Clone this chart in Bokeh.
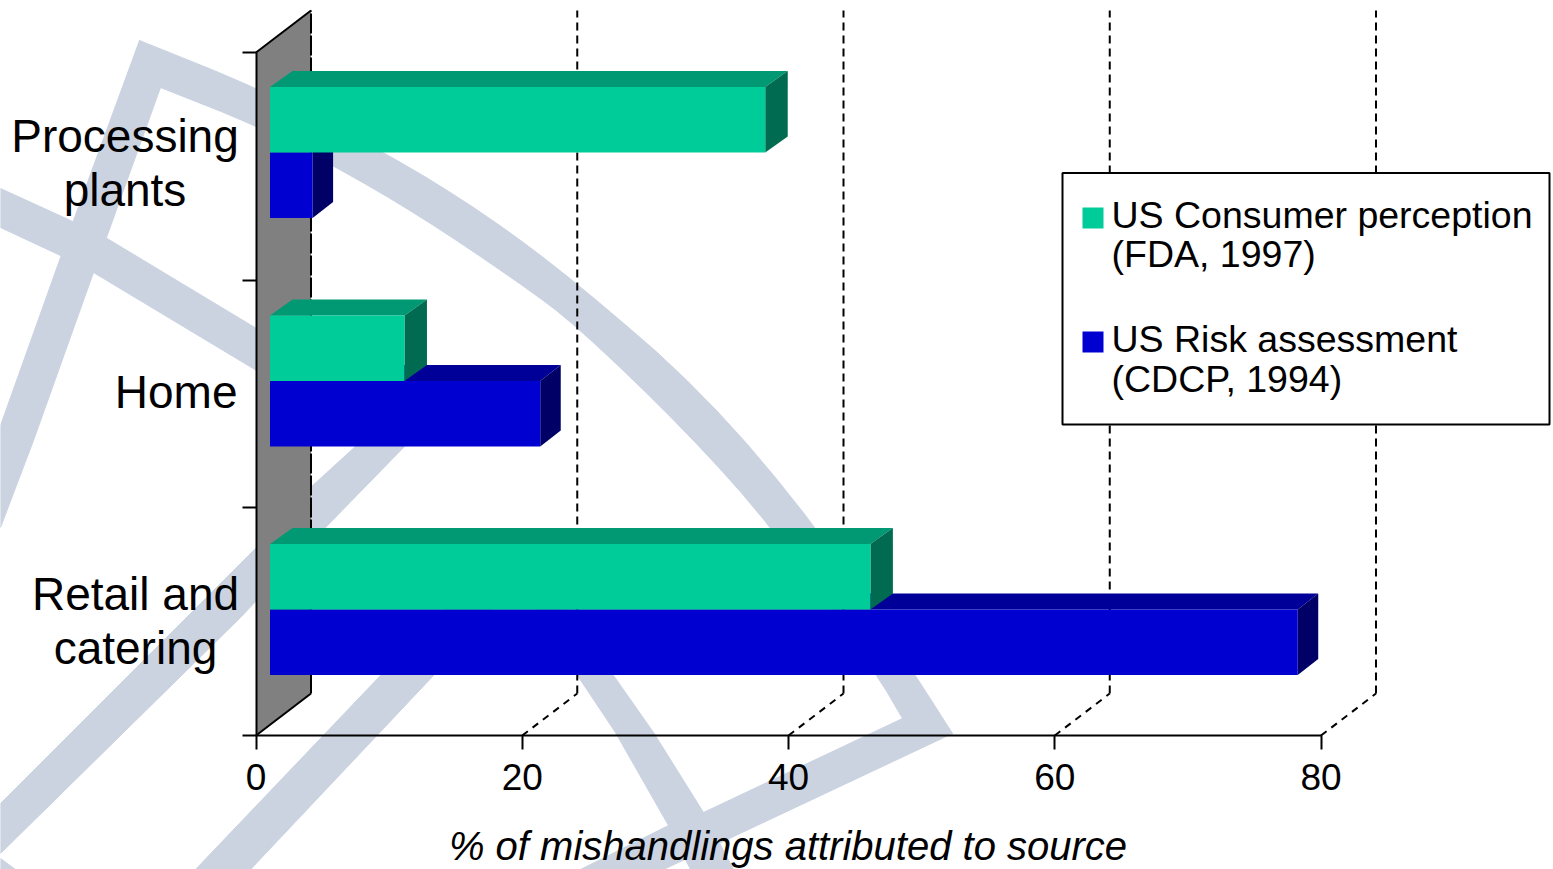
from bokeh.plotting import figure
from bokeh.embed import file_html
from bokeh.resources import INLINE
from bokeh.models import (FixedTicker, Range1d, Label, PolyAnnotation, BoxAnnotation)

# ---------- data ----------
categories = [["Retail and", "catering"], ["Home"], ["Processing", "plants"]]
consumer_perception = [45.1, 10.1, 37.2]
risk_assessment = [77.2, 20.3, 3.2]
x_ticks = [0, 20, 40, 60, 80]
series_names = [["US Consumer perception", "(FDA, 1997)"],
                ["US Risk assessment", "(CDCP, 1994)"]]
x_title = "% of mishandlings attributed to source"

# ---------- 3-D look (in data units) ----------
XS, YS = 13.3125, 227.67            # pixels per data unit
def dx(px): return (px - 255.5) / XS
def dy(py): return (735 - py) / YS

WALL_DX, WALL_DY = 55 / XS, 42 / YS
BAR_BASE = 14 / XS
BAR_DY = 16 / YS
BAR_H = 65.5 / YS
BAR_SPLIT = 0.553
ROW_STEP = 228.5 / YS
FONT = "Liberation Sans"
GREEN = ("#00CC99", "#009973", "#006B50", 22.5 / XS)
BLUE = ("#0000D0", "#000099", "#000066", 20.5 / XS)
WM = "#CBD3E1"

p = figure(width=1553, height=869, output_backend="svg", toolbar_location=None,
           x_range=Range1d(dx(0), dx(1553)), y_range=Range1d(dy(869), dy(0)),
           min_border_left=0, min_border_right=0, min_border_top=0, min_border_bottom=0)
p.grid.visible = False
p.outline_line_color = None
p.background_fill_color = None

# ---------- watermark ----------
def smooth(pts, n=2):
    for _ in range(n):
        new = [pts[0]]
        for (a, b), (c, d) in zip(pts[:-1], pts[1:]):
            new += [(0.75 * a + 0.25 * c, 0.75 * b + 0.25 * d), (0.25 * a + 0.75 * c, 0.25 * b + 0.75 * d)]
        new.append(pts[-1])
        pts = new
    return pts

arc_upper = [(139, 40), (256, 87), (387, 153), (487, 215), (576, 282), (703, 392), (818, 528), (915, 675), (952, 733)]
arc_lower = [(902, 718), (877, 675), (773, 528), (685, 430), (576, 325), (520, 283), (419, 215), (333, 165), (256, 125), (160, 87)]
watermark = [
    smooth(arc_upper) + smooth(arc_lower),
    [(139, 40), (73, 220), (60, 257), (0, 425), (0, 527), (33, 440), (93, 272), (106, 237), (160, 87)],
    [(0, 188), (70, 220), (105, 237), (256, 328), (400, 420), (350, 430), (256, 370), (93, 272), (60, 255), (0, 227)],
    [(0, 803), (255, 548), (310, 487), (356, 445), (400, 400), (440, 400), (405, 445), (324, 528), (240, 617), (0, 853)],
    [(195, 869), (380, 675), (500, 550), (545, 550), (433, 675), (250, 869)],
    [(530, 600), (577, 675), (615, 732), (668, 825), (690, 869), (733, 869), (703, 812), (653, 732), (613, 675), (560, 600)],
    [(952, 733), (902, 718), (703, 812), (668, 825), (580, 869), (663, 869)],
    [(0, 858), (15, 869), (0, 869)],
]
for shape in watermark:
    p.add_layout(PolyAnnotation(xs=[dx(a) for a, _ in shape], ys=[dy(b) for _, b in shape],
                                fill_color=WM, fill_alpha=1, line_color=WM, line_alpha=1, line_width=1,
                                level="underlay"))

# ---------- gridlines ----------
for t in x_ticks[1:]:
    p.line([t, t + WALL_DX], [0, WALL_DY], line_color="black", line_width=2, line_dash="7 6")
    p.line([t + WALL_DX, t + WALL_DX], [WALL_DY, 3 + WALL_DY], line_color="black", line_width=2, line_dash="8 5")

# ---------- wall ----------
p.patch([0, WALL_DX, WALL_DX, 0], [0, WALL_DY, 3 + WALL_DY, 3], fill_color="#808080", line_color=None)
p.line([0, WALL_DX], [0, WALL_DY], line_color="black", line_width=2)
p.line([0, WALL_DX], [3, 3 + WALL_DY], line_color="black", line_width=2)
p.line([WALL_DX, WALL_DX], [WALL_DY, 3 + WALL_DY], line_color="black", line_width=2, line_dash="20 2")

# ---------- bars ----------
def bar(value, bottom, colors):
    x0, x1 = BAR_BASE, BAR_BASE + value
    y0, y1 = bottom, bottom + BAR_H
    depth = colors[3]
    p.patch([x0, x0 + depth, x1 + depth, x1], [y1, y1 + BAR_DY, y1 + BAR_DY, y1],
            fill_color=colors[1], line_color=None)
    p.patch([x1, x1 + depth, x1 + depth, x1], [y0, y0 + BAR_DY, y1 + BAR_DY, y1],
            fill_color=colors[2], line_color=None)
    p.quad(left=x0, right=x1, bottom=y0, top=y1, fill_color=colors[0], line_color=None)

for i in range(len(categories)):
    row = i * ROW_STEP + BAR_SPLIT
    bar(risk_assessment[i], row - BAR_H, BLUE)
    bar(consumer_perception[i], row, GREEN)

# ---------- axes (drawn at fixed data positions, inside the full-page frame) ----------
ax = p.xaxis[0]
ax.fixed_location = 0
ax.ticker = FixedTicker(ticks=x_ticks, minor_ticks=[])
ax.bounds = (0, 80)
ax.axis_line_width = 2
ax.major_tick_line_width = 2
ax.major_tick_in = 0
ax.major_tick_out = 14
ax.major_label_standoff = 14
ax.major_label_text_font = FONT
ax.major_label_text_font_size = "37px"
ax.major_label_text_color = "black"

ay = p.yaxis[0]
ay.fixed_location = 0
ay.ticker = FixedTicker(ticks=[0, 1, 2, 3], minor_ticks=[])
ay.bounds = (0, 3)
ay.axis_line_width = 2
ay.major_tick_line_width = 2
ay.major_tick_in = 0
ay.major_tick_out = 14
ay.major_label_overrides = {0: "", 1: "", 2: "", 3: ""}
ay.major_label_text_font_size = "1px"

# text helper: y positions are given as the wanted baseline
def text_at(px, baseline, text, size, align="left", style="normal", level="annotation"):
    p.add_layout(Label(x=dx(px), y=dy(baseline - 0.36 * size), text=text, text_align=align,
                       text_baseline="alphabetic", text_font=FONT, text_font_size=f"{size}px",
                       text_font_style=style, text_color="black", level=level))

# axis title, centred under the 0-80 scale
text_at(787.5, 860, x_title, 40, align="center", style="italic")

# ---------- category labels ----------
cat_layout = [
    (135, "center", [610, 664]),
    (237, "right", [408]),
    (124.5, "center", [152.5, 206]),
]
for lines, (cx, align, baselines) in zip(categories, cat_layout):
    for text, by in zip(lines, baselines):
        text_at(cx, by, text, 46, align=align)

# ---------- legend ----------
p.add_layout(BoxAnnotation(left=dx(1062), right=dx(1549), top=dy(172.5), bottom=dy(424),
                           fill_color="white", fill_alpha=1, line_color="black", line_alpha=1,
                           line_width=2, level="overlay"))
legend_layout = [(207, GREEN[0], [228, 267]), (331, BLUE[0], [352, 392])]
for lines, (sy, col, baselines) in zip(series_names, legend_layout):
    p.add_layout(BoxAnnotation(left=dx(1082), right=dx(1103), top=dy(sy), bottom=dy(sy + 21),
                               fill_color=col, fill_alpha=1, line_color=None, level="overlay"))
    for text, by in zip(lines, baselines):
        text_at(1111, by, text, 37.5, level="overlay")

open("out.html", "w").write(file_html(p, INLINE))
